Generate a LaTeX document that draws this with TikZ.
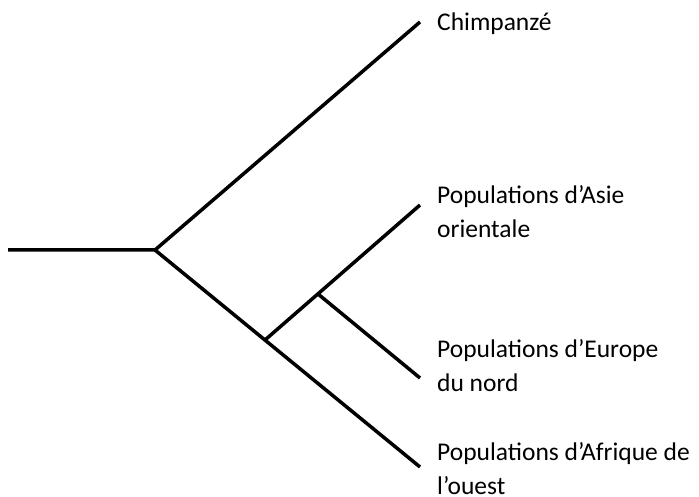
\documentclass[tikz,border=0pt]{standalone}
\usepackage{fontspec}
\setmainfont{Carlito}
\begin{document}
\begin{tikzpicture}[x=1pt, y=-1pt]
\tikzset{branch/.style={line width=3.5pt, line join=miter},
  leaf/.style={anchor=west, align=left, inner sep=0pt, font=\fontsize{25.5}{34}\selectfont}}
\useasboundingbox (0, 0) rectangle (699, 497);
\coordinate (start) at (8, 250);
\coordinate (root) at (155, 250);
\coordinate (chimp) at (420, 22);
\coordinate (hum) at (265, 340);
\coordinate (eura) at (318, 294);
\coordinate (asie) at (420, 205);
\coordinate (euro) at (420, 378);
\coordinate (afr) at (420, 467);
\draw [branch] (start) -- (root) -- (chimp);
\draw [branch] (root) -- (afr);
\draw [branch] (hum) -- (asie);
\draw [branch] (eura) -- (euro);
\node [leaf] (lchimp) at (437, 24) {Chimpanzé};
\node [leaf] (lasie) at (437, 212) {Populations d’Asie\\orientale};
\node [leaf] (leuro) at (437, 366) {Populations d’Europe\\du nord};
\node [leaf] (lafr) at (437, 469) {Populations d’Afrique de\\l’ouest};
\end{tikzpicture}
\end{document}
